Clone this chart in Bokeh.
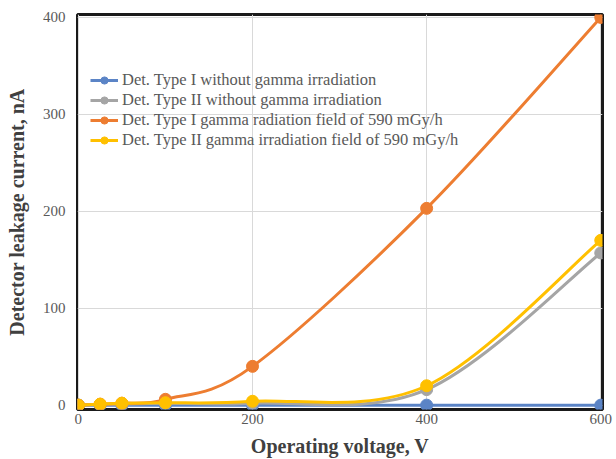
import numpy as np
from bokeh.plotting import figure
from bokeh.models import FixedTicker, Legend, LegendItem, ColumnDataSource
from bokeh.embed import file_html
from bokeh.resources import INLINE

voltage = [0, 25, 50, 100, 200, 400, 600]
type1_no_gamma = [0, 0, 0, 0, 0, 0, 0]
type2_no_gamma = [0, 0.5, 1, 2, 2, 16, 157]
type1_gamma = [0, 1, 2, 6, 40, 203, 400]
type2_gamma = [0, 1, 2, 2.5, 4, 20, 170]

series = [
    ("Det. Type I without gamma irradiation", type1_no_gamma, "#5B84C6"),
    ("Det. Type II without gamma irradiation", type2_no_gamma, "#A5A5A5"),
    ("Det. Type I gamma radiation field of 590 mGy/h", type1_gamma, "#ED7D31"),
    ("Det. Type II gamma irradiation field of 590 mGy/h", type2_gamma, "#FFC000"),
]

x_ticks = [0, 200, 400, 600]
y_ticks = [0, 100, 200, 300, 400]

SERIF = "Liberation Serif"


def bezier_segments(xs, ys):
    xs = np.asarray(xs, float)
    ys = np.asarray(ys, float)
    n = len(xs)
    px = np.concatenate([[xs[0]], xs, [xs[-1]]])
    py = np.concatenate([[ys[0]], ys, [ys[-1]]])
    d = dict(x0=[], y0=[], x1=[], y1=[], cx0=[], cy0=[], cx1=[], cy1=[])
    for i in range(n - 1):
        p0x, p0y = px[i], py[i]
        p1x, p1y = px[i + 1], py[i + 1]
        p2x, p2y = px[i + 2], py[i + 2]
        p3x, p3y = px[i + 3], py[i + 3]
        d["x0"].append(p1x); d["y0"].append(p1y)
        d["x1"].append(p2x); d["y1"].append(p2y)
        d["cx0"].append(p1x + (p2x - p0x) / 6); d["cy0"].append(p1y + (p2y - p0y) / 6)
        d["cx1"].append(p2x - (p3x - p1x) / 6); d["cy1"].append(p2y - (p3y - p1y) / 6)
    return d


p = figure(width=616, height=459, output_backend="svg", toolbar_location=None,
           x_range=(-1, 602), y_range=(-4.5, 403),
           min_border_left=77, min_border_right=14, min_border_top=14, min_border_bottom=50)

p.background_fill_color = "white"
p.border_fill_color = "white"
p.outline_line_color = "#1a1a1a"
p.outline_line_width = 3

p.xaxis.ticker = FixedTicker(ticks=x_ticks)
p.yaxis.ticker = FixedTicker(ticks=y_ticks)
for ax in (p.xaxis, p.yaxis):
    ax.axis_line_color = None
    ax.major_tick_line_color = None
    ax.minor_tick_line_color = None
    ax.major_tick_out = 0
    ax.major_tick_in = 0
    ax.minor_tick_out = 0
    ax.minor_tick_in = 0
    ax.major_label_text_font = SERIF
    ax.major_label_text_font_size = "15px"
    ax.major_label_text_color = "#595959"
    ax.axis_label_text_font = SERIF
    ax.axis_label_text_font_style = "bold"
    ax.axis_label_text_font_size = "20px"
    ax.axis_label_text_color = "#404040"

p.xaxis.axis_label = "Operating voltage, V"
p.yaxis.axis_label = "Detector leakage current, nA"
p.xaxis.major_label_standoff = 4
p.xaxis.axis_label_standoff = 8
p.yaxis.major_label_standoff = 12
p.yaxis.axis_label_standoff = 12

p.xgrid.ticker = FixedTicker(ticks=x_ticks)
p.ygrid.ticker = FixedTicker(ticks=y_ticks)
p.xgrid.grid_line_color = "#D9D9D9"
p.ygrid.grid_line_color = "#D9D9D9"

items = []
for name, ys, color in series:
    src = ColumnDataSource(bezier_segments(voltage, ys))
    p.bezier(x0="x0", y0="y0", x1="x1", y1="y1", cx0="cx0", cy0="cy0", cx1="cx1", cy1="cy1",
             source=src, line_color=color, line_width=3)
    p.scatter(voltage, ys, marker="circle", size=12, fill_color=color, line_color=color)
    lg_line = p.line(x=[np.nan, np.nan], y=[np.nan, np.nan], line_color=color, line_width=3)
    lg_dot = p.scatter(x=[np.nan], y=[np.nan], marker="circle", size=7,
                       fill_color=color, line_color=color)
    items.append(LegendItem(label=name, renderers=[lg_line, lg_dot]))

legend = Legend(items=items, location=(13, 259))
legend.background_fill_alpha = 0
legend.border_line_color = None
legend.label_text_font = SERIF
legend.label_text_font_size = "16.5px"
legend.label_text_color = "#595959"
legend.glyph_width = 28
legend.glyph_height = 18
legend.label_height = 18
legend.spacing = 0
legend.padding = 2
legend.label_standoff = 4
p.add_layout(legend)

open("out.html", "w").write(file_html(p, INLINE))
